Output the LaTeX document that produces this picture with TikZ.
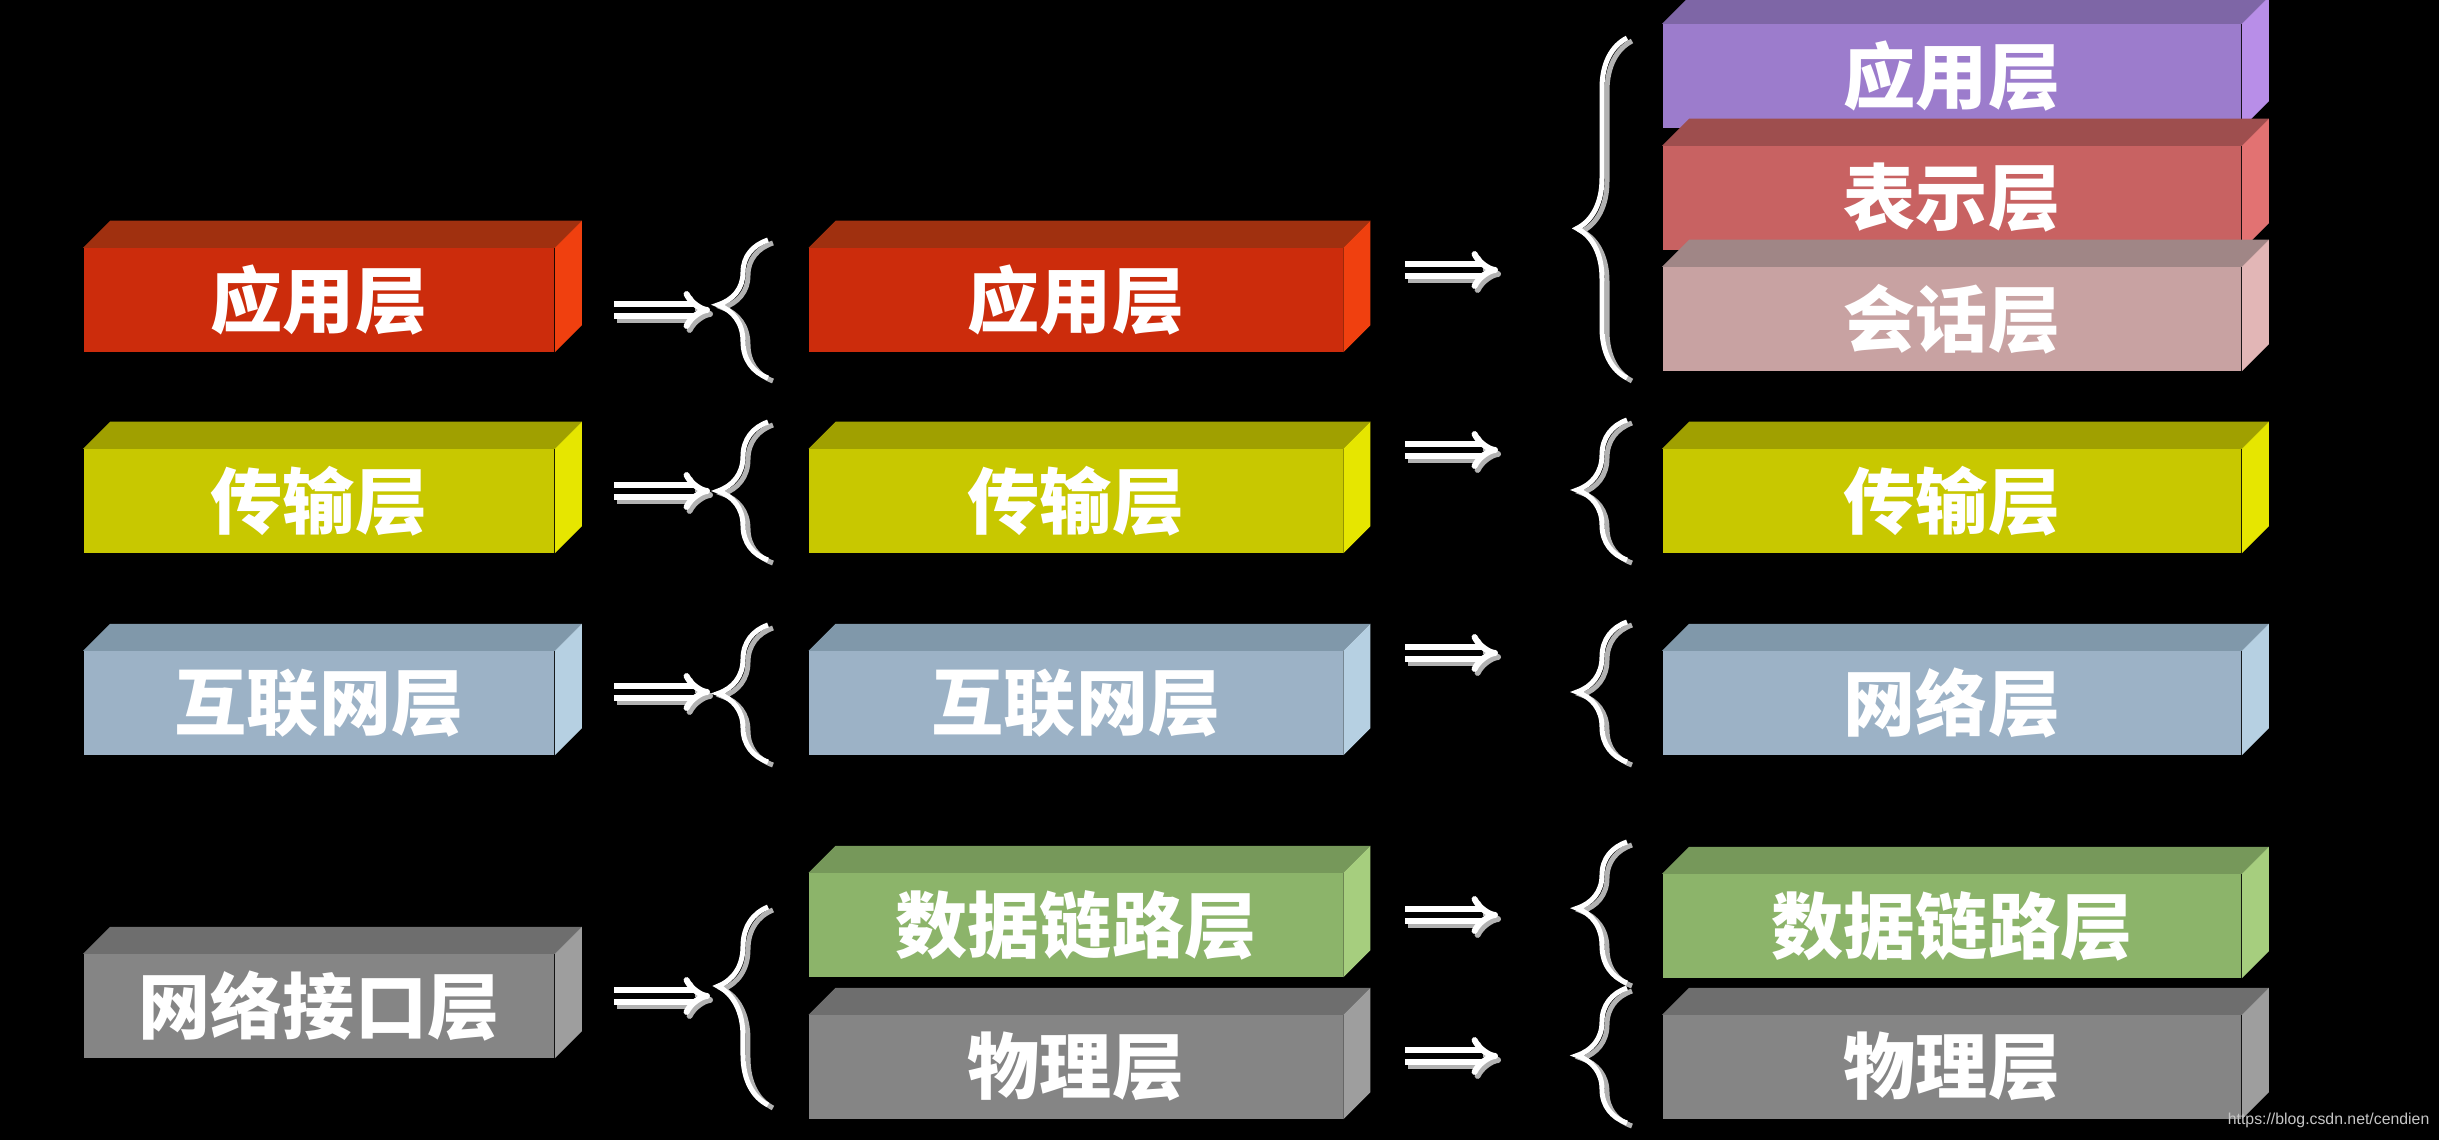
\documentclass[tikz,border=0pt]{standalone}
\usepackage{fontspec}
\usepackage{tikz}
\usetikzlibrary{arrows.meta,decorations.pathreplacing}
\setmainfont{Liberation Sans}
\newfontfamily\cjk{Noto Sans CJK SC}

\definecolor{redF}{HTML}{CC2C0C}
\definecolor{redT}{HTML}{A0300F}
\definecolor{redS}{HTML}{F0400F}
\definecolor{yelF}{HTML}{C8C800}
\definecolor{yelT}{HTML}{A0A000}
\definecolor{yelS}{HTML}{E6E600}
\definecolor{bluF}{HTML}{9CB2C6}
\definecolor{bluT}{HTML}{8098AA}
\definecolor{bluS}{HTML}{B6D0E2}
\definecolor{gryF}{HTML}{858585}
\definecolor{gryT}{HTML}{6E6E6E}
\definecolor{gryS}{HTML}{9E9E9E}
\definecolor{grnF}{HTML}{8CB46A}
\definecolor{grnT}{HTML}{76985A}
\definecolor{grnS}{HTML}{A6CE7E}
\definecolor{purF}{HTML}{9C7CCC}
\definecolor{purT}{HTML}{7E66A6}
\definecolor{purS}{HTML}{B88EE8}
\definecolor{rosF}{HTML}{C86262}
\definecolor{rosT}{HTML}{9E4E4E}
\definecolor{rosS}{HTML}{E27272}
\definecolor{pnkF}{HTML}{C8A2A2}
\definecolor{pnkT}{HTML}{A08686}
\definecolor{pnkS}{HTML}{E2B6B6}

\tikzset{
	layer/.style={rectangle, inner sep=0pt, minimum height=1.03cm, text=white,
		font=\cjk\bfseries\fontsize{20.5}{24}\selectfont},
	colA/.style={layer, minimum width=4.70cm},
	colB/.style={layer, minimum width=5.33cm},
	colC/.style={layer, minimum width=5.78cm},
	imp/.style={draw=white, line width=0.06cm, double=black, double distance=0.06cm, -{Implies}},
	impshade/.style={imp, draw=gray!60, transform canvas={shift={(0.03cm,-0.04cm)}}},
	brc/.style={draw=white, line width=0.05cm, decorate, decoration={brace, amplitude=0.5cm, aspect=#1}},
	brc/.default=0.5,
	brcshade/.style={brc=#1, draw=gray!60, transform canvas={shift={(0.05cm,-0.03cm)}}},
	brcshade/.default=0.5
}

\begin{document}
\begin{tikzpicture}[x=0.01cm, y=-0.01cm]
	\useasboundingbox (0,0) rectangle (2439,1140);
	\clip (0,0) rectangle (2439,1140);
	\fill[black] (-10,-10) rectangle (2449,1150);

	% TCP/IP
	\node[colA, fill=redF] (a1) at (319,300) {应用层};
	\node[colA, fill=yelF] (a2) at (319,501) {传输层};
	\node[colA, fill=bluF] (a3) at (319,703) {互联网层};
	\node[colA, fill=gryF] (a4) at (319,1006) {网络接口层};

	% five layers
	\node[colB, fill=redF] (b1) at (1076,300) {应用层};
	\node[colB, fill=yelF] (b2) at (1076,501) {传输层};
	\node[colB, fill=bluF] (b3) at (1076,703) {互联网层};
	\node[colB, fill=grnF] (b4) at (1076,925) {数据链路层};
	\node[colB, fill=gryF] (b5) at (1076,1067) {物理层};

	% OSI
	\node[colC, fill=purF] (c1) at (1952,76) {应用层};
	\node[colC, fill=rosF] (c2) at (1952,198) {表示层};
	\node[colC, fill=pnkF] (c3) at (1952,319) {会话层};
	\node[colC, fill=yelF] (c4) at (1952,501) {传输层};
	\node[colC, fill=bluF] (c5) at (1952,703) {网络层};
	\node[colC, fill=grnF] (c6) at (1952,926) {数据链路层};
	\node[colC, fill=gryF] (c7) at (1952,1067) {物理层};

	% top and side faces
	\foreach \n/\col in {a1/red,a2/yel,a3/blu,a4/gry,b1/red,b2/yel,b3/blu,b4/grn,b5/gry,c1/pur,c2/ros,c3/pnk,c4/yel,c5/blu,c6/grn,c7/gry} {
		\fill[\col T] (\n.north west) -- ++(0.27cm,0.27cm) -- ([shift={(0.27cm,0.27cm)}]\n.north east) -- (\n.north east) -- cycle;
		\fill[\col S] (\n.north east) -- ++(0.27cm,0.27cm) -- ([shift={(0.27cm,0.27cm)}]\n.south east) -- (\n.south east) -- cycle;
	}

	% arrows
	\foreach \y [count=\i] in {310,491,692,996} {
		\coordinate (p\i) at (614,\y);
		\coordinate (q\i) at (710,\y);
		\draw[impshade] (p\i) -- (q\i);
		\draw[imp] (p\i) -- (q\i);
	}
	\foreach \y [count=\i] in {270,450,653,915,1056} {
		\coordinate (r\i) at (1405,\y);
		\coordinate (s\i) at (1498,\y);
		\draw[impshade] (r\i) -- (s\i);
		\draw[imp] (r\i) -- (s\i);
	}

	% braces
	\foreach \lo/\hi/\asp in {378/240/0.53,560/422/0.5,762/625/0.5,1105/907/0.6} {
		\draw[brcshade=\asp] (768,\lo) -- (768,\hi);
		\draw[brc=\asp] (768,\lo) -- (768,\hi);
	}
	\foreach \lo/\hi/\asp in {378/38/0.44,560/420/0.5,762/622/0.5,983/842/0.53,1123/988/0.5} {
		\draw[brcshade=\asp] (1627,\lo) -- (1627,\hi);
		\draw[brc=\asp] (1627,\lo) -- (1627,\hi);
	}

	\node[anchor=base east, inner sep=0pt, text=gray!45, font=\fontsize{4.5}{5}\selectfont] (wm) at (2430,1124) {https://blog.csdn.net/cendien};
\end{tikzpicture}
\end{document}
